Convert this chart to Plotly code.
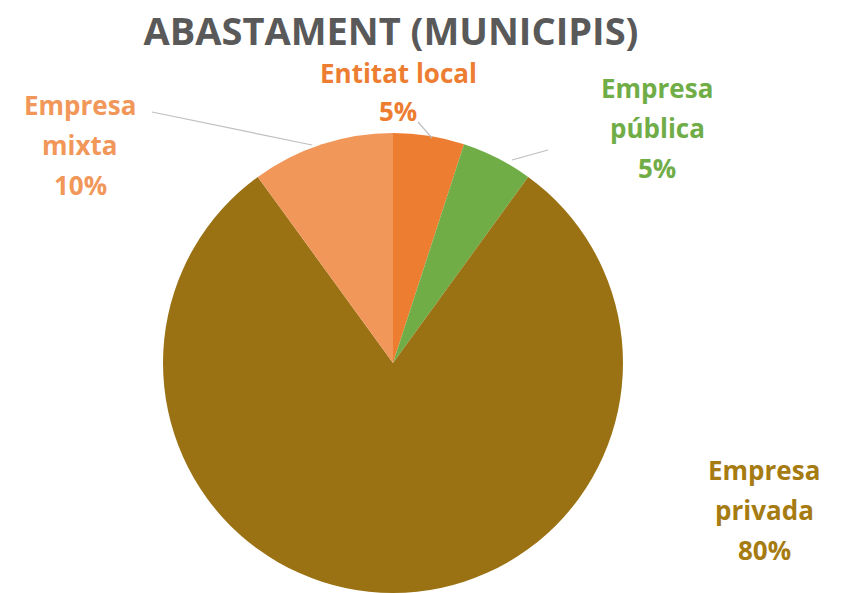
import plotly.graph_objects as go

# Water supply management model share per municipality
categories = ["Entitat local", "Empresa pública", "Empresa privada", "Empresa mixta"]
shares = [5, 5, 80, 10]
label_lines = [["Entitat local"], ["Empresa", "pública"], ["Empresa", "privada"], ["Empresa", "mixta"]]

colors = ["#ED7D31", "#70AD47", "#9A7113", "#F1975A"]
label_colors = ["#ED7D31", "#70AD47", "#A67C12", "#F1975A"]

W, H = 843, 593
cx, cy, r = 393, 363, 230

fig = go.Figure(go.Pie(
    labels=categories,
    values=shares,
    sort=False,
    direction="clockwise",
    rotation=0,
    marker=dict(colors=colors, line=dict(width=0)),
    textinfo="none",
    hoverinfo="label+percent",
    domain=dict(x=[(cx - r) / W, (cx + r) / W], y=[1 - (cy + r) / H, 1 - (cy - r) / H]),
    showlegend=False,
))

font_family = "Open Sans, Lato, sans-serif"

# label anchor (x, first-line y) in pixels and line spacing
label_pos = [(398, 73, 38), (657, 88, 40), (764, 470, 40), (80, 105, 40)]

def px(x, y):
    return x / W, 1 - y / H

for lines, val, col, (lx, ly, dy) in zip(label_lines, shares, label_colors, label_pos):
    texts = lines + [f"{val}%"]
    for i, t in enumerate(texts):
        x, y = px(lx, ly + i * dy)
        fig.add_annotation(x=x, y=y, xref="paper", yref="paper", text=f"<b>{t}</b>",
                           showarrow=False, font=dict(family=font_family, size=26, color=col),
                           xanchor="center", yanchor="middle")

# leader lines
leaders = [((418, 122), (432, 138)), ((548, 150), (512, 160)), ((152, 112), (312, 145))]
for (x0, y0), (x1, y1) in leaders:
    a0 = px(x0, y0)
    a1 = px(x1, y1)
    fig.add_shape(type="line", xref="paper", yref="paper", x0=a0[0], y0=a0[1], x1=a1[0], y1=a1[1],
                  line=dict(color="#BFBFBF", width=1.2))

fig.update_layout(
    width=W, height=H,
    margin=dict(l=0, r=0, t=0, b=0),
    paper_bgcolor="white",
    title=dict(text="<b>ABASTAMENT (MUNICIPIS)</b>", x=391 / W, xanchor="center", y=1 - 32 / H, yanchor="middle",
               font=dict(family=font_family, size=38, color="#595959")),
)

fig.write_html("out.html")
